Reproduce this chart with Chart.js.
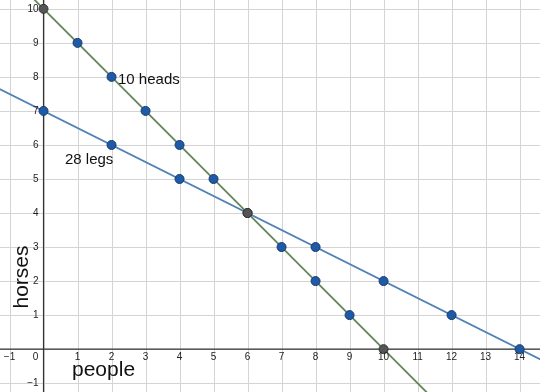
<!DOCTYPE html>
<html><head><meta charset="utf-8">
<script src="https://cdn.jsdelivr.net/npm/chart.js@4"></script>
<style>html,body{margin:0;padding:0;background:#fff}#wrap{width:540px;height:392px}</style>
</head><body><div id="wrap"><canvas id="c" width="540" height="392"></canvas></div>
<script>
// Data
const headsPeople = [0,1,2,3,4,5,6,7,8,9,10];
const headsHorses = [10,9,8,7,6,5,4,3,2,1,0];
const legsPeople = [0,2,4,6,8,10,12,14];
const legsHorses = [7,6,5,4,3,2,1,0];
const grayPointsX = [0,6,10];
const xTicks = [-1,0,1,2,3,4,5,6,7,8,9,10,11,12,13,14];
const yTicks = [-1,0,1,2,3,4,5,6,7,8,9,10];
const xRange = [-1.28, 14.6];
const yRange = [-1.26, 10.26];

function pts(xs, ys){ return xs.map((x,i)=>({x:x,y:ys[i]})); }
// extend a line through its first and last data points beyond the view edges
function extend(xs, ys){
  const x0=xs[0], y0=ys[0], x1=xs[xs.length-1], y1=ys[ys.length-1];
  const m=(y1-y0)/(x1-x0);
  const f=x=>y0+m*(x-x0);
  return [{x:xRange[0]-1,y:f(xRange[0]-1)},{x:xRange[1]+1,y:f(xRange[1]+1)}];
}
const headPts = pts(headsPeople, headsHorses);
const legPts = pts(legsPeople, legsHorses);
const blueFill='#1e5aa8', blueBorder='#153a6b', grayFill='#555555', grayBorder='#333333';

const axisPlugin = {
  id:'axisLabels',
  beforeDatasetsDraw(chart){
    const {ctx, scales:{x,y}} = chart;
    ctx.save();
    ctx.strokeStyle='#d4d4d4'; ctx.lineWidth=1;
    ctx.beginPath();
    xTicks.forEach(v=>{ const p=Math.round(x.getPixelForValue(v))+0.5; ctx.moveTo(p,0); ctx.lineTo(p,392); });
    yTicks.forEach(v=>{ const p=Math.round(y.getPixelForValue(v))+0.5; ctx.moveTo(0,p); ctx.lineTo(540,p); });
    ctx.stroke();
    ctx.strokeStyle='#333'; ctx.lineWidth=1.2;
    const x0=x.getPixelForValue(0), y0=y.getPixelForValue(0);
    ctx.beginPath(); ctx.moveTo(0,y0); ctx.lineTo(540,y0); ctx.moveTo(x0,0); ctx.lineTo(x0,392); ctx.stroke();
    ctx.restore();
  },
  afterDatasetsDraw(chart){
    const {ctx, scales:{x,y}} = chart;
    const x0=x.getPixelForValue(0), y0=y.getPixelForValue(0);
    ctx.save();
    ctx.fillStyle='#222'; ctx.font='10px "Liberation Sans", Arial, sans-serif';
    ctx.textBaseline='middle';
    xTicks.forEach(v=>{
      const lbl = v<0 ? '\u2212'+(-v) : String(v);
      ctx.textAlign='center';
      ctx.fillText(lbl, v===0 ? x0-8 : x.getPixelForValue(v), y0+8);
    });
    yTicks.forEach(v=>{
      if(v===0) return;
      const lbl = v<0 ? '\u2212'+(-v) : String(v);
      ctx.textAlign='right'; ctx.fillText(lbl, x0-5, y.getPixelForValue(v)+0.5);
    });
    ctx.fillStyle='#111';
    ctx.font='15px "Liberation Sans", Arial, sans-serif';
    ctx.textAlign='left';
    ctx.fillText('10 heads', 118, 80);
    ctx.fillText('28 legs', 65, 160);
    ctx.font='21px "Liberation Sans", Arial, sans-serif';
    ctx.fillText('people', 72, 370);
    ctx.translate(22, 277); ctx.rotate(-Math.PI/2);
    ctx.textAlign='center';
    ctx.fillText('horses', 0, 0);
    ctx.restore();
  }
};

new Chart(document.getElementById('c'), {
  type:'scatter',
  data:{datasets:[
    {type:'line', data:extend(headsPeople, headsHorses), borderColor:'#65865a', borderWidth:1.8, pointRadius:0, fill:false, order:3},
    {type:'line', data:extend(legsPeople, legsHorses), borderColor:'#4f80b8', borderWidth:1.8, pointRadius:0, fill:false, order:3},
    {data:legPts, pointRadius:4.5, pointBackgroundColor:legPts.map(p=>p.x===6?grayFill:blueFill), pointBorderColor:legPts.map(p=>p.x===6?grayBorder:blueBorder), pointBorderWidth:1, order:2},
    {data:headPts, pointRadius:4.5, pointBackgroundColor:headPts.map(p=>grayPointsX.includes(p.x)?grayFill:blueFill), pointBorderColor:headPts.map(p=>grayPointsX.includes(p.x)?grayBorder:blueBorder), pointBorderWidth:1, order:1}
  ]},
  options:{
    responsive:false, animation:false,
    layout:{padding:0, autoPadding:false},
    plugins:{legend:{display:false}, tooltip:{enabled:false}},
    scales:{
      x:{type:'linear', display:false, min:xRange[0], max:xRange[1]},
      y:{type:'linear', display:false, min:yRange[0], max:yRange[1]}
    }
  },
  plugins:[axisPlugin]
});
</script></body></html>
